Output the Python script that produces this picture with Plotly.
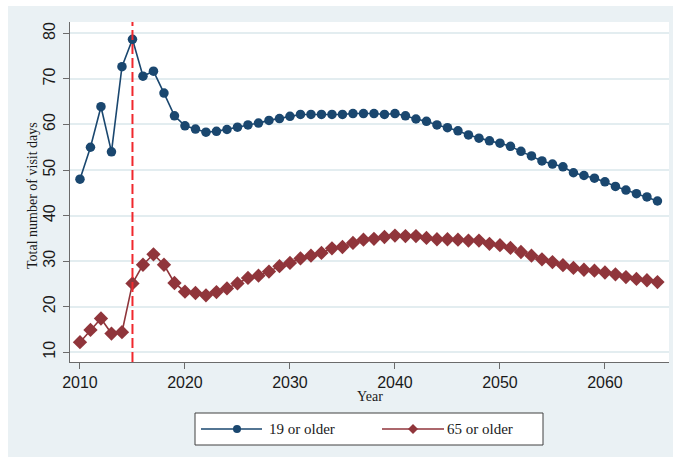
import plotly.graph_objects as go

# Annual projections, 2010-2065
years = list(range(2010, 2066))

visits_19_plus = [
    48.0, 55.0, 63.9, 54.0, 72.7, 78.7, 70.6, 71.7, 66.9, 61.9,
    59.7, 59.0, 58.3, 58.5, 58.9, 59.4, 59.9, 60.3, 60.9, 61.3,
    61.8, 62.2, 62.2, 62.2, 62.2, 62.2, 62.4, 62.4, 62.4, 62.2,
    62.4, 61.9, 61.2, 60.7, 59.9, 59.3, 58.6, 57.7, 57.0, 56.4,
    55.9, 55.2, 54.1, 53.1, 52.0, 51.3, 50.7, 49.4, 48.8, 48.2,
    47.4, 46.4, 45.6, 44.8, 44.1, 43.2,
]

visits_65_plus = [
    12.2, 14.9, 17.4, 14.1, 14.4, 25.1, 29.2, 31.5, 29.2, 25.2,
    23.3, 23.0, 22.5, 23.2, 24.0, 25.1, 26.3, 26.8, 27.7, 28.9,
    29.6, 30.6, 31.2, 31.8, 32.8, 33.1, 34.0, 34.7, 34.9, 35.3,
    35.6, 35.5, 35.5, 35.1, 34.8, 34.8, 34.7, 34.5, 34.5, 33.8,
    33.5, 32.9, 32.0, 31.2, 30.4, 29.8, 29.1, 28.5, 28.1, 27.9,
    27.5, 27.1, 26.5, 26.1, 25.8, 25.4,
]

series_names = ["19 or older", "65 or older"]
x_ticks = [2010, 2020, 2030, 2040, 2050, 2060]
y_ticks = [10, 20, 30, 40, 50, 60, 70, 80]
reference_year = 2015

NAVY = "#1a476f"
MAROON = "#90353b"
BG = "#eaf1f4"
GRID = "#e3edf0"
AXIS = "#6b6b6b"

W, H = 673, 457
ML, MR, MT, MB = 70, 4, 22, 95
PW, PH = W - ML - MR, H - MT - MB


def px_x(p):
    return (p - ML) / PW


def px_y(p):
    return (MT + PH - p) / PH


fig = go.Figure()

fig.add_trace(go.Scatter(
    x=years, y=visits_19_plus, name=series_names[0], mode="lines+markers",
    line=dict(color=NAVY, width=1.6),
    marker=dict(symbol="circle", size=9.5, color=NAVY),
    showlegend=False,
))
fig.add_trace(go.Scatter(
    x=years, y=visits_65_plus, name=series_names[1], mode="lines+markers",
    line=dict(color=MAROON, width=1.6),
    marker=dict(symbol="diamond", size=11, color=MAROON),
    showlegend=False,
))

shapes = [
    # white strips framing the outer background
    dict(type="rect", xref="paper", yref="paper", x0=px_x(0), x1=px_x(W),
         y0=px_y(6), y1=px_y(0), fillcolor="white", line_width=0, layer="below"),
    dict(type="rect", xref="paper", yref="paper", x0=px_x(0), x1=px_x(8),
         y0=px_y(H), y1=px_y(0), fillcolor="white", line_width=0, layer="below"),
    # vertical marker at the base year
    dict(type="line", xref="x", yref="paper", x0=reference_year, x1=reference_year,
         y0=0, y1=1, line=dict(color="#f0282d", width=2, dash="10px,4px")),
    # legend box
    dict(type="rect", xref="paper", yref="paper", x0=px_x(195), x1=px_x(543),
         y0=px_y(445), y1=px_y(413), fillcolor="white",
         line=dict(color="#404040", width=1)),
]

legend_y = px_y(429)
legend_items = [
    (series_names[0], NAVY, 201, 262, 237, 267, "circle", 8),
    (series_names[1], MAROON, 382, 444, 413, 445, "diamond", 10),
]
annotations = []
for name, color, lx0, lx1, mx, tx, sym, msz in legend_items:
    shapes.append(dict(type="line", xref="paper", yref="paper",
                       x0=px_x(lx0), x1=px_x(lx1), y0=legend_y, y1=legend_y,
                       line=dict(color=color, width=1.6)))
    r = msz / 2
    if sym == "circle":
        shapes.append(dict(type="circle", xref="paper", yref="paper",
                           x0=px_x(mx - r), x1=px_x(mx + r),
                           y0=px_y(429 + r), y1=px_y(429 - r),
                           fillcolor=color, line_width=0))
    else:
        path = (f"M {px_x(mx - r)} {legend_y} L {px_x(mx)} {px_y(429 - r)} "
                f"L {px_x(mx + r)} {legend_y} L {px_x(mx)} {px_y(429 + r)} Z")
        shapes.append(dict(type="path", xref="paper", yref="paper", path=path,
                           fillcolor=color, line_width=0))
    annotations.append(dict(
        text=name, xref="paper", yref="paper", x=px_x(tx), y=legend_y,
        xanchor="left", yanchor="middle", showarrow=False,
        font=dict(family="Liberation Serif, Times New Roman, serif", size=15,
                  color="#1a1a1a"),
    ))

serif = dict(family="Liberation Serif, Times New Roman, serif", size=14,
             color="#1a1a1a")
annotations.append(dict(text="Year", xref="paper", yref="paper",
                        x=0.5, y=px_y(396), xanchor="center", yanchor="middle",
                        showarrow=False, font=serif))
annotations.append(dict(text="Total number of visit days", xref="paper",
                        yref="paper", x=px_x(32), y=px_y(196), textangle=-90,
                        xanchor="center", yanchor="middle", showarrow=False,
                        font=serif))

tick_font = dict(family="Liberation Sans, Arial, sans-serif", size=16,
                 color="#1a1a1a")

fig.update_layout(
    width=W, height=H,
    margin=dict(l=ML, r=MR, t=MT, b=MB, pad=0),
    paper_bgcolor=BG, plot_bgcolor="white",
    shapes=shapes, annotations=annotations,
    showlegend=False,
    xaxis=dict(
        range=[2009.05, 2066.1], tickvals=x_ticks, ticks="outside",
        ticklen=6, tickcolor=AXIS, showgrid=False, zeroline=False,
        showline=True, linecolor=AXIS, linewidth=1.2, tickfont=tick_font,
        ticklabelstandoff=0,
    ),
    yaxis=dict(
        range=[7.85, 82.5], tickvals=y_ticks, ticks="outside",
        ticklen=6, tickcolor=AXIS, showgrid=True, gridcolor=GRID, gridwidth=1.5,
        zeroline=False, showline=True, linecolor=AXIS, linewidth=1.2,
        tickfont=tick_font, tickangle=-90, ticklabelstandoff=2,
    ),
)

fig.write_html("out.html")
